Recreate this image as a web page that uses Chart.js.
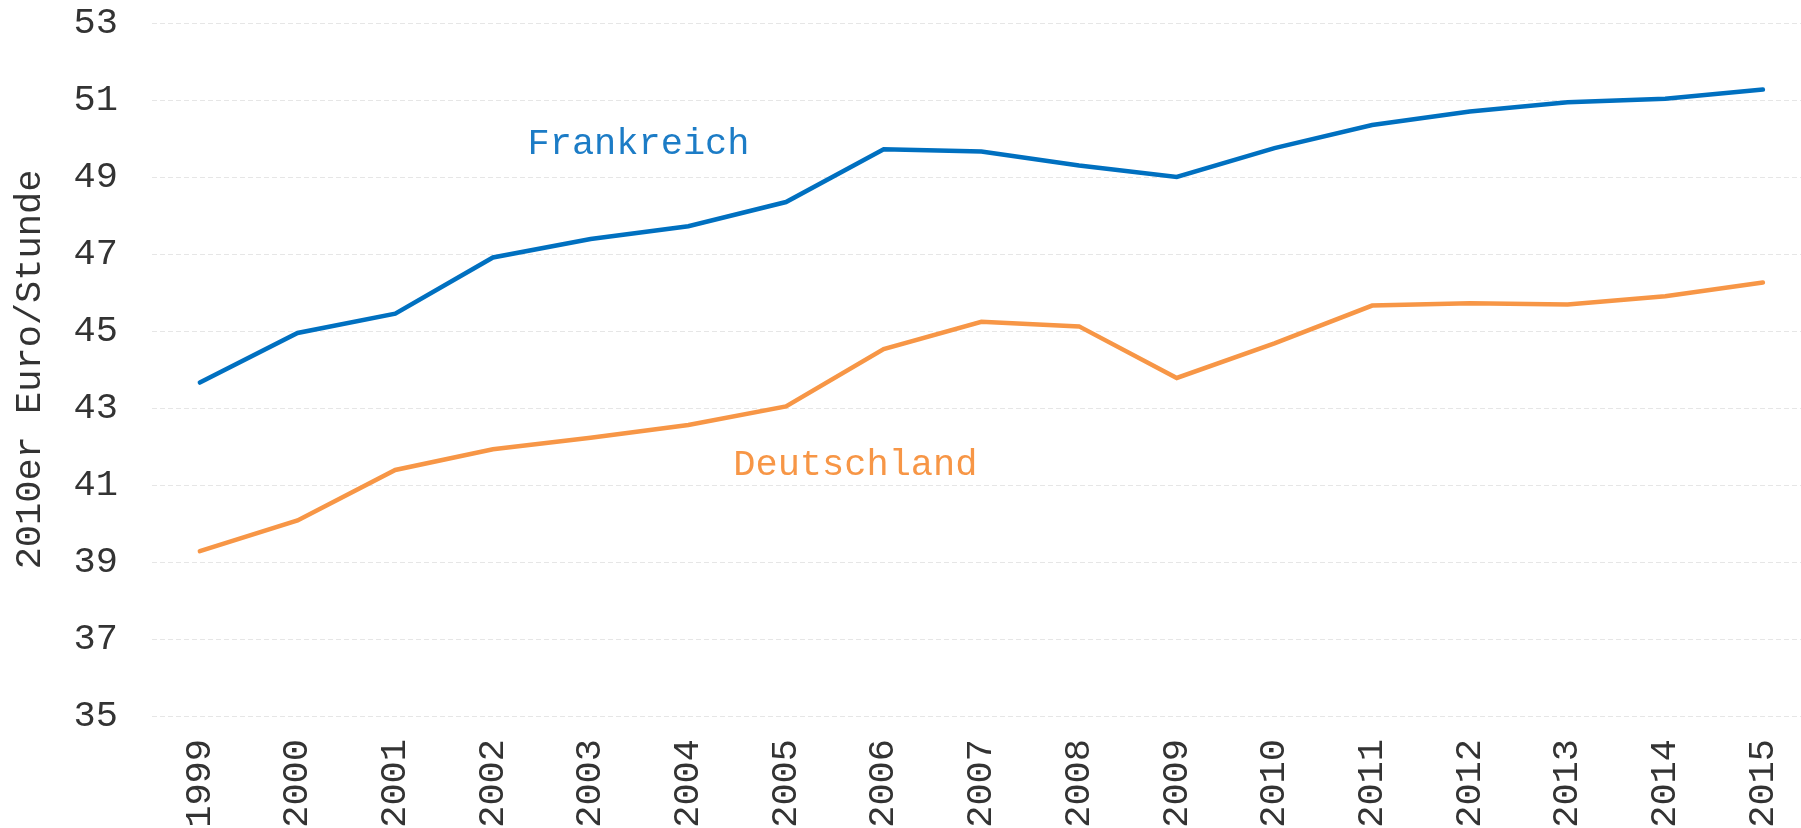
<!DOCTYPE html>
<html>
<head>
<meta charset="utf-8">
<script src="https://cdn.jsdelivr.net/npm/chart.js@4.4.0/dist/chart.umd.min.js"></script>
<style>
  html, body { margin: 0; padding: 0; background: #fff; }
  #wrap { width: 1801px; height: 828px; }
</style>
</head>
<body>
<div id="wrap"><canvas id="line-chart"></canvas></div>
<script>
var years = [1999, 2000, 2001, 2002, 2003, 2004, 2005, 2006, 2007, 2008, 2009, 2010, 2011, 2012, 2013, 2014, 2015];
var frankreich = [43.66, 44.95, 45.45, 46.91, 47.39, 47.72, 48.35, 49.72, 49.66, 49.30, 49.00, 49.75, 50.35, 50.70, 50.94, 51.03, 51.27];
var deutschland = [39.28, 40.08, 41.39, 41.93, 42.23, 42.56, 43.04, 44.53, 45.24, 45.12, 43.78, 44.68, 45.66, 45.72, 45.69, 45.90, 46.26];
var yTicks = [35, 37, 39, 41, 43, 45, 47, 49, 51, 53];

var blue = "#0070c0";
var orange = "#f79646";
var font = "'Courier New', 'Liberation Mono', monospace";

function points(vals) {
  return years.map(function (y, i) { return { x: y, y: vals[i] }; });
}

// series names written next to the lines
var seriesLabels = {
  id: "seriesLabels",
  afterDatasetsDraw: function (chart) {
    var ctx = chart.ctx, xs = chart.scales.x, ys = chart.scales.y;
    ctx.save();
    ctx.font = "37px " + font;
    ctx.textAlign = "center";
    ctx.textBaseline = "middle";
    ctx.fillStyle = "#1c7cc6";
    ctx.fillText("Frankreich", xs.getPixelForValue(2003.49), ys.getPixelForValue(49.86));
    ctx.fillStyle = orange;
    ctx.fillText("Deutschland", xs.getPixelForValue(2005.71), ys.getPixelForValue(41.52));
    ctx.restore();
  }
};

new Chart(document.getElementById("line-chart"), {
  type: "line",
  data: {
    datasets: [{
      label: "Frankreich",
      data: points(frankreich),
      borderColor: blue,
      borderWidth: 4.5,
      pointRadius: 0,
      tension: 0,
      borderCapStyle: "round"
    }, {
      label: "Deutschland",
      data: points(deutschland),
      borderColor: orange,
      borderWidth: 4.5,
      pointRadius: 0,
      tension: 0,
      borderCapStyle: "round"
    }]
  },
  options: {
    responsive: true,
    maintainAspectRatio: false,
    animation: false,
    layout: { padding: 0 },
    plugins: {
      legend: { display: false },
      tooltip: { enabled: false }
    },
    scales: {
      x: {
        type: "linear",
        min: 1998.51,
        max: 2015.39,
        grid: { display: false },
        border: { display: false },
        afterBuildTicks: function (scale) {
          scale.ticks = years.map(function (v) { return { value: v }; });
        },
        afterFit: function (scale) {
          scale.height = 112;
          scale.paddingLeft = 0;
          scale.paddingRight = 0;
        },
        ticks: {
          autoSkip: false,
          minRotation: 90,
          maxRotation: 90,
          padding: 15,
          color: "#333",
          font: { family: font, size: 37 },
          callback: function (v) { return String(v); }
        }
      },
      y: {
        min: 35,
        max: 53,
        afterBuildTicks: function (scale) {
          scale.ticks = yTicks.map(function (v) { return { value: v }; });
        },
        afterFit: function (scale) {
          scale.width = 152;
          scale.paddingTop = 23;
          scale.paddingBottom = 0;
        },
        grid: {
          color: "#e6e6e6",
          lineWidth: 1,
          drawTicks: false
        },
        border: { display: false, dash: [5, 3] },
        ticks: {
          padding: 34,
          color: "#333",
          font: { family: font, size: 37 }
        },
        title: {
          display: true,
          text: "2010er Euro/Stunde",
          color: "#333",
          font: { family: font, size: 37 },
          padding: { top: 8, bottom: 0 }
        }
      }
    }
  },
  plugins: [seriesLabels]
});
</script>
</body>
</html>
